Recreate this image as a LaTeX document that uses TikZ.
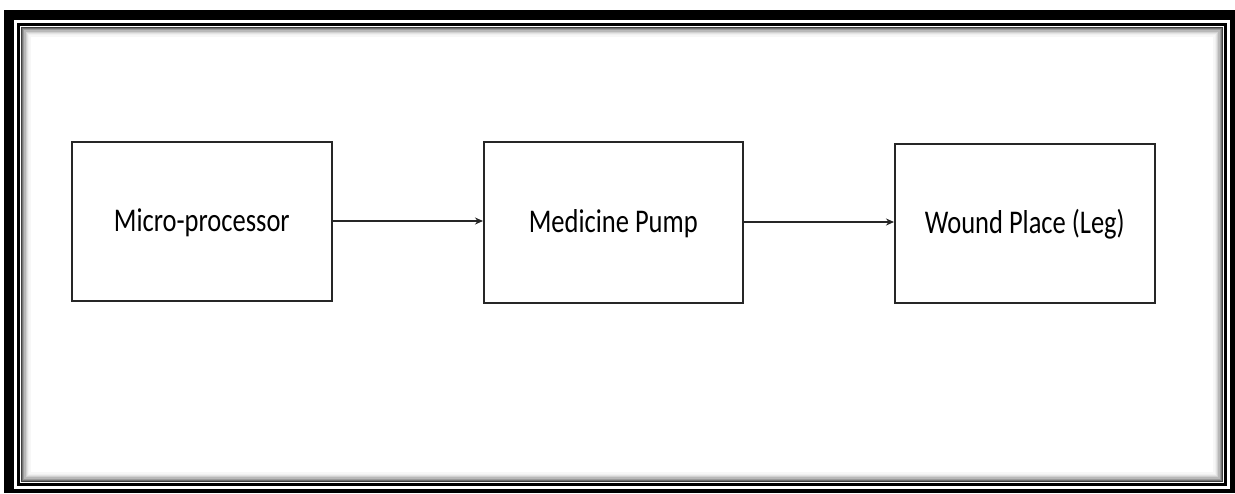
\documentclass[tikz,border=0pt]{standalone}
\usepackage{fontspec}
\setmainfont{Carlito}
\usetikzlibrary{arrows.meta}
\begin{document}
\begin{tikzpicture}[x=1pt,y=-1pt,
  blockbox/.style={draw=black!85,line width=1.6pt,fill=white},
  flow/.style={draw=black!85,line width=1.6pt,-{Stealth[length=8pt,width=7pt]}},
  lbl/.style={font=\fontsize{26.5}{30}\selectfont,text=black}]
\useasboundingbox (0,0) rectangle (1235,493);
% frame
\fill[black] (4,10) rectangle (1235,493);
\fill[white] (14,20) rectangle (1230,489);
\foreach \i/\c in {0/75,1/55,2/40,3/28,4/18,5/11,6/6,7/3}{
  \draw[black!\c,line width=1.3pt] (21.5+1.2*\i,27.5+1.2*\i) rectangle (1222.5-1.2*\i,481.5-1.2*\i);
}
\draw[black,line width=3pt] (18.5,24.5) rectangle (1225.5,484.5);
% boxes
\node[blockbox,minimum width=260pt,minimum height=159pt,anchor=north west] (mp) at (71,141) {};
\node[blockbox,minimum width=259pt,minimum height=161pt,anchor=north west] (pump) at (483,141) {};
\node[blockbox,minimum width=260pt,minimum height=159pt,anchor=north west] (wound) at (894,143) {};
\node[lbl] at ([yshift=-1pt]mp.center) {\scalebox{1}[1.25]{Micro-processor}};
\node[lbl] at ([yshift=-1pt]pump.center) {\scalebox{1}[1.25]{Medicine Pump}};
\node[lbl] at ([yshift=-1pt]wound.center) {\scalebox{1}[1.25]{Wound Place (Leg)}};
\draw[flow] (mp.east |- 0,221) -- (pump.west |- 0,221);
\draw[flow] (pump.east |- 0,222) -- (wound.west |- 0,222);
\end{tikzpicture}
\end{document}
